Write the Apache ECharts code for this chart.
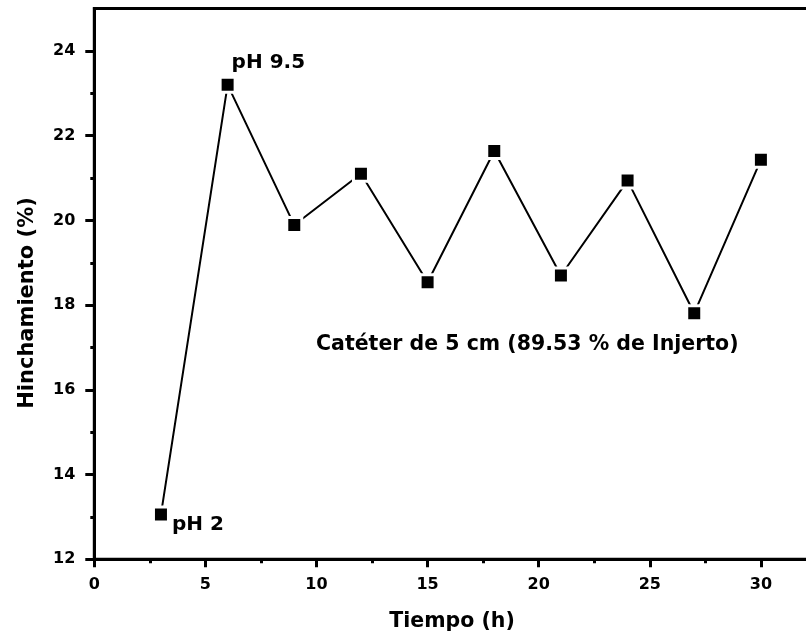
<!DOCTYPE html>
<html>
<head>
<meta charset="utf-8">
<script src="https://cdn.jsdelivr.net/npm/echarts@6/dist/echarts.min.js"></script>
<style>html,body{margin:0;padding:0;background:#fff;overflow:hidden}#wrap{width:806px;height:641px;overflow:hidden;position:relative}#c{width:872px;height:641px;position:absolute;left:0;top:0}</style>
</head>
<body>
<div id="wrap"><div id="c"></div></div>
<script>
// Data
const tiempo = [3, 6, 9, 12, 15, 18, 21, 24, 27, 30];
const hinchamiento = [13.06, 23.2, 19.89, 21.1, 18.54, 21.64, 18.7, 20.94, 17.81, 21.43];
const pointLabels = ['pH 2', 'pH 9.5'];
const xTickValues = [0, 5, 10, 15, 20, 25, 30];
const yTickValues = [12, 14, 16, 18, 20, 22, 24];
const xTitle = 'Tiempo (h)';
const yTitle = 'Hinchamiento (%)';
const noteText = 'Catéter de 5 cm (89.53 % de Injerto)';

const FONT = 'DejaVu Sans';
const labelOpts = [
  {position: 'right', offset: [-3, 10]},
  {position: 'right', offset: [-10, -22]}
];
const seriesData = tiempo.map((t, i) => {
  const item = {value: [t, hinchamiento[i]]};
  if (i < pointLabels.length) {
    item.label = Object.assign({
      show: true, formatter: pointLabels[i], color: '#000',
      fontFamily: FONT, fontWeight: 'bold', fontSize: 20
    }, labelOpts[i]);
  }
  return item;
});

const chart = echarts.init(document.getElementById('c'), null, {renderer: 'canvas'});
chart.setOption({
  animation: false,
  backgroundColor: '#fff',
  grid: {left: 94.3, top: 8.6, bottom: 81.7, right: 0, show: true, borderColor: '#000', borderWidth: 3, containLabel: false},
  xAxis: {
    type: 'value', min: 0, max: 35, interval: 5,
    axisLine: {show: true, onZero: false, lineStyle: {color: '#000', width: 3}},
    axisTick: {show: true, inside: false, length: 8, lineStyle: {color: '#000', width: 3},
      customValues: xTickValues},
    minorTick: {show: true, splitNumber: 2, length: 4, lineStyle: {color: '#000', width: 3}},
    axisLabel: {show: true, margin: 18, color: '#000', fontFamily: FONT, fontWeight: 'bold', fontSize: 16,
      customValues: xTickValues},
    splitLine: {show: false}
  },
  yAxis: {
    type: 'value', min: 12, max: 25, interval: 2,
    axisLine: {show: true, onZero: false, lineStyle: {color: '#000', width: 3}},
    axisTick: {show: true, inside: false, length: 9, lineStyle: {color: '#000', width: 3},
      customValues: yTickValues},
    minorTick: {show: true, splitNumber: 2, length: 4, lineStyle: {color: '#000', width: 3}},
    axisLabel: {show: true, margin: 19, color: '#000', fontFamily: FONT, fontWeight: 'bold', fontSize: 16,
      customValues: yTickValues},
    splitLine: {show: false}
  },
  series: [{
    type: 'line',
    data: seriesData,
    symbol: 'rect',
    symbolSize: 15,
    lineStyle: {color: '#000', width: 2},
    itemStyle: {color: '#000', borderColor: '#fff', borderWidth: 3},
    z: 3
  }],
  graphic: [
    {type: 'text', left: 316, top: 334, style: {text: noteText, fill: '#000', font: 'bold 20.5px "DejaVu Sans"'}},
    {type: 'text', x: 452, y: 622, style: {text: xTitle, fill: '#000', font: 'bold 20.5px "DejaVu Sans"', align: 'center', verticalAlign: 'middle'}},
    {type: 'text', x: 28, y: 303, rotation: Math.PI / 2, style: {text: yTitle, fill: '#000', font: 'bold 21px "DejaVu Sans"', align: 'center', verticalAlign: 'middle'}}
  ]
});
</script>
</body>
</html>
